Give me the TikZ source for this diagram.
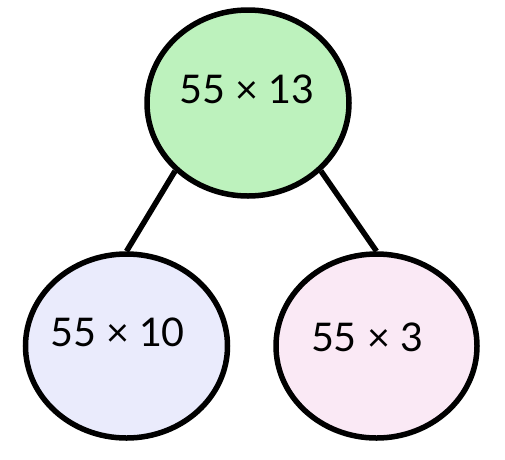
\documentclass[tikz,border=0pt]{standalone}
\usepackage{fontspec}
\setmainfont{Lato}
\usetikzlibrary{shapes.geometric}
\definecolor{topfill}{HTML}{BDF2BD}
\definecolor{leftfill}{HTML}{EAEBFC}
\definecolor{rightfill}{HTML}{FAE9F5}
\begin{document}
\begin{tikzpicture}[x=1pt,y=1pt,
  blob/.style={ellipse,draw=black,line width=5.5pt,inner sep=0pt},
  lbl/.style={font=\fontsize{39.5}{42}\selectfont,inner sep=0pt,anchor=center},
  link/.style={line width=5.5pt,draw=black}]
\useasboundingbox (0,0) rectangle (505,-459);
\node[blob,fill=topfill,minimum width=202pt,minimum height=186pt] (top) at (248,-103) {};
\node[blob,fill=leftfill,minimum width=202pt,minimum height=184pt] (left) at (126.5,-346) {};
\node[blob,fill=rightfill,minimum width=201pt,minimum height=184pt] (right) at (376.5,-346) {};
\node[lbl] (ttop) at (247,-89) {55 × 13};
\node[lbl] (tleft) at (117.5,-332) {55 × 10};
\node[lbl] (tright) at (367,-337) {55 × 3};
\draw[link] (top.223) -- (left.north);
\draw[link] (top.317) -- (right.north);
\end{tikzpicture}
\end{document}
